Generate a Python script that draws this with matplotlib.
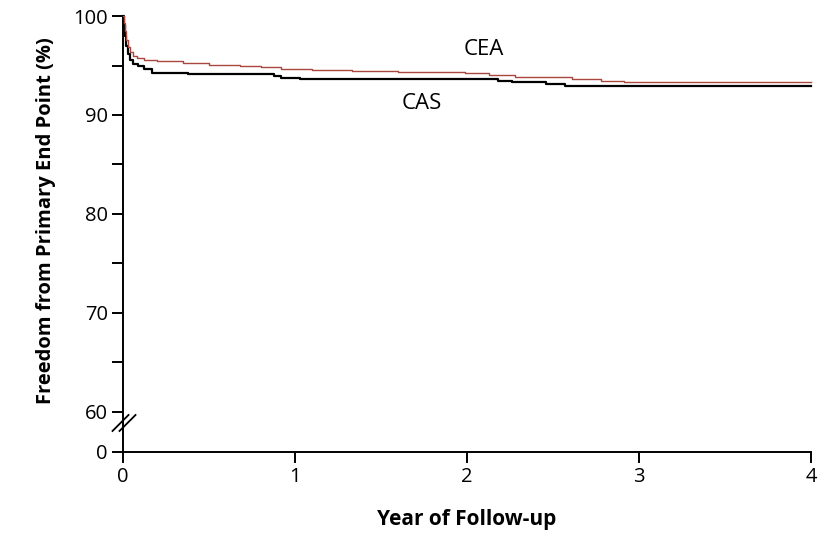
import matplotlib
matplotlib.use("Agg")
import matplotlib.pyplot as plt
import numpy as np

plt.rcParams['font.family'] = ['Open Sans', 'DejaVu Sans']

# Kaplan-Meier step curves
cea_t = [0, 0.005, 0.01, 0.02, 0.03, 0.04, 0.06, 0.08, 0.12, 0.2, 0.35, 0.5,
         0.68, 0.8, 0.92, 1.1, 1.33, 1.6, 1.99, 2.13, 2.28, 2.61, 2.78, 2.91, 4.0]
cea_v = [100, 99.3, 98.5, 97.6, 96.9, 96.4, 96.0, 95.8, 95.6, 95.45, 95.25, 95.1,
         94.98, 94.85, 94.65, 94.55, 94.44, 94.35, 94.2, 94.04, 93.8, 93.64, 93.47, 93.3, 93.3]

cas_t = [0, 0.005, 0.01, 0.02, 0.03, 0.04, 0.06, 0.09, 0.12, 0.17, 0.38, 0.88,
         0.92, 1.03, 2.18, 2.26, 2.46, 2.57, 4.0]
cas_v = [100, 99.0, 98.0, 97.0, 96.2, 95.6, 95.2, 94.9, 94.6, 94.24, 94.1, 93.9,
         93.77, 93.64, 93.47, 93.3, 93.13, 92.9, 92.9]

x_ticks = [0, 1, 2, 3, 4]
y_ticks = [60, 70, 80, 90, 100]
y_minor = [65, 75, 85, 95]
y_zero = 55.95  # where the "0" sits below the axis break

fig = plt.figure(figsize=(8.31, 5.34), dpi=100)
ax = fig.add_axes([0.148, 0.1536, 0.828, 0.8164])

ax.step(cea_t, cea_v, where='post', color='#a9463d', lw=1.0, clip_on=False, zorder=3)
ax.step(cas_t, cas_v, where='post', color='black', lw=1.6, clip_on=False, zorder=2)

ax.text(2.1, 96.6, "CEA", fontsize=16, ha='center', va='center')
ax.text(1.74, 91.2, "CAS", fontsize=16, ha='center', va='center')

ax.set_xlim(0, 4)
ax.set_ylim(y_zero, 100)
ax.set_xticks(x_ticks)
ax.set_xticklabels([str(v) for v in x_ticks])
ax.set_yticks([y_zero] + y_ticks)
ax.set_yticklabels(["0"] + [str(v) for v in y_ticks])
ax.set_yticks(y_minor, minor=True)

for s in ['top', 'right']:
    ax.spines[s].set_visible(False)
for s in ['left', 'bottom']:
    ax.spines[s].set_linewidth(1.4)

ax.tick_params(axis='both', which='both', direction='out', length=8, width=1.4,
               labelsize=14.5, pad=3)

ax.set_xlabel("Year of Follow-up", fontsize=15, fontweight='bold', labelpad=16)
ax.set_ylabel("Freedom from Primary End Point (%)", fontsize=14.5, fontweight='bold')
ax.yaxis.set_label_coords(-0.097, 0.53)

# axis break marks "//"
w, h = 688.0, 436.0
cx, cy = 0.0015, 29 / h
for dx in [-3.5, 3.5]:
    x0 = cx + (dx - 8) / w
    x1 = cx + (dx + 8) / w
    y0 = cy + (-8) / h
    y1 = cy + 8 / h
    ax.plot([x0, x1], [y0, y1], transform=ax.transAxes, color='black', lw=1.3, clip_on=False)

fig.savefig("out.png", dpi=100)
